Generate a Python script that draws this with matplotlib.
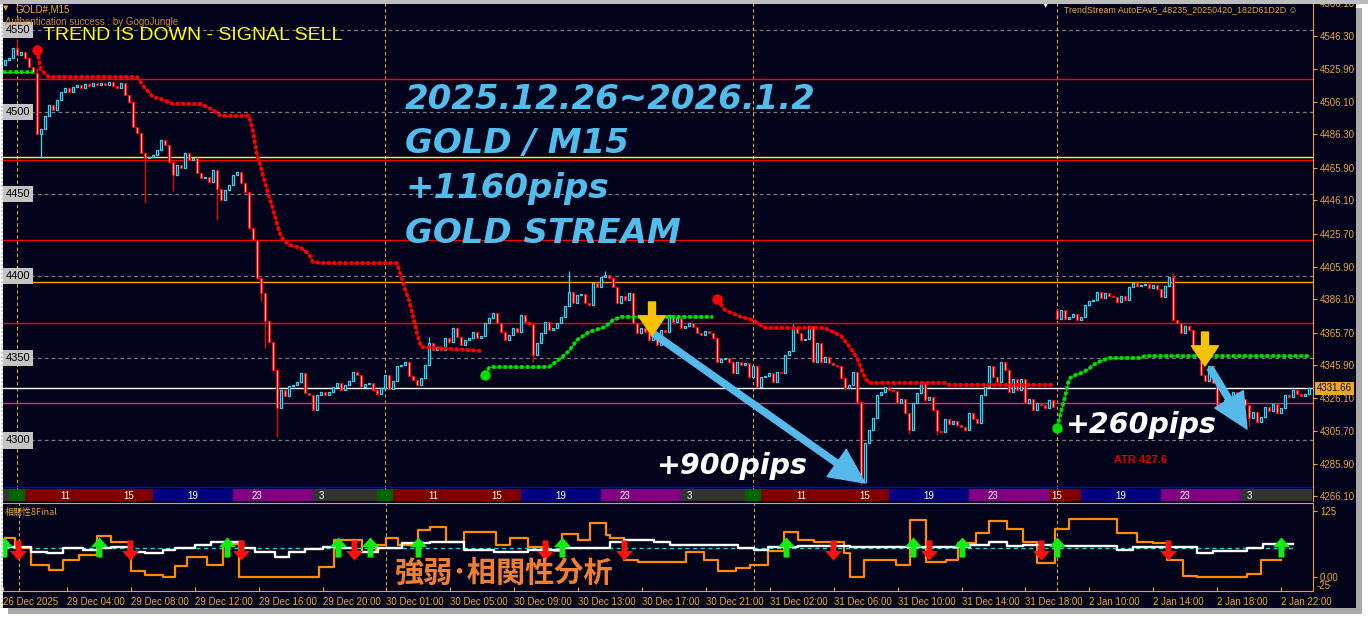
import numpy as np
import matplotlib
matplotlib.use('Agg')
import matplotlib.pyplot as plt
from matplotlib.path import Path
from matplotlib.patches import Rectangle
from matplotlib.lines import Line2D

plt.rcParams['font.family'] = ['DejaVu Sans', 'Noto Sans CJK JP']

# ---- data: GOLD M15 closes, one per candle ----
first_open = 4528.6
closes = [
    4531.7, 4532.9, 4539.0, 4534.7, 4536.5, 4532.9, 4527.4, 4523.7, 4486.6, 4489.6,
    4497.6, 4504.3, 4501.2, 4507.3, 4512.2, 4514.6, 4512.2, 4515.2, 4516.4, 4514.6,
    4517.0, 4515.8, 4517.7, 4516.4, 4517.7, 4516.4, 4518.3, 4515.8, 4514.6, 4517.7,
    4510.3, 4506.1, 4490.9, 4487.2, 4475.0, 4472.0, 4472.6, 4473.8, 4476.8, 4482.9,
    4479.9, 4469.5, 4461.6, 4467.7, 4465.9, 4475.0, 4470.8, 4472.0, 4462.8, 4459.8,
    4460.4, 4457.4, 4464.7, 4453.1, 4446.4, 4452.5, 4455.5, 4461.6, 4463.5, 4456.8,
    4451.3, 4429.3, 4422.0, 4398.9, 4389.8, 4372.7, 4359.9, 4342.9, 4319.7, 4330.7,
    4327.0, 4333.1, 4333.7, 4335.6, 4341.0, 4328.9, 4327.6, 4318.5, 4327.6, 4329.5,
    4327.6, 4329.5, 4332.5, 4335.0, 4330.7, 4333.7, 4336.2, 4341.7, 4339.8, 4332.5,
    4334.3, 4334.8, 4330.7, 4328.2, 4331.9, 4339.8, 4331.3, 4336.2, 4345.3, 4345.9,
    4347.7, 4339.2, 4336.8, 4333.7, 4338.0, 4345.9, 4359.3, 4355.0, 4356.9, 4355.0,
    4362.4, 4359.9, 4368.4, 4363.0, 4358.1, 4361.1, 4362.4, 4366.0, 4362.4, 4363.6,
    4371.5, 4374.5, 4377.6, 4371.5, 4366.0, 4361.1, 4364.2, 4368.4, 4366.0, 4376.4,
    4372.1, 4371.0, 4352.0, 4359.3, 4365.4, 4372.1, 4367.2, 4368.4, 4371.5, 4375.1,
    4381.8, 4390.4, 4383.7, 4388.5, 4389.2, 4383.7, 4382.5, 4395.9, 4393.4, 4399.5,
    4400.7, 4398.9, 4393.4, 4383.7, 4387.9, 4385.5, 4389.8, 4371.5, 4365.4, 4368.4,
    4366.0, 4361.1, 4364.8, 4358.1, 4367.2, 4366.0, 4376.4, 4372.1, 4374.5, 4368.4,
    4369.7, 4371.5, 4369.1, 4365.4, 4364.2, 4366.6, 4365.4, 4362.4, 4347.7, 4349.6,
    4350.2, 4347.7, 4341.0, 4347.7, 4345.9, 4347.1, 4338.6, 4345.3, 4332.5, 4338.6,
    4339.2, 4341.0, 4335.6, 4341.7, 4341.0, 4352.0, 4354.4, 4368.4, 4365.4, 4361.1,
    4361.7, 4369.7, 4347.7, 4359.3, 4347.7, 4350.8, 4347.1, 4345.9, 4345.3, 4338.0,
    4331.9, 4333.7, 4341.7, 4323.4, 4274.7, 4298.4, 4306.3, 4313.6, 4327.6, 4329.5,
    4332.5, 4330.7, 4330.1, 4322.8, 4325.2, 4316.7, 4306.3, 4322.8, 4328.9, 4335.0,
    4324.6, 4326.4, 4318.5, 4305.7, 4305.1, 4313.0, 4310.0, 4311.8, 4309.4, 4308.2,
    4306.3, 4316.7, 4313.0, 4310.6, 4327.6, 4332.5, 4345.3, 4338.6, 4335.6, 4347.7,
    4342.9, 4329.5, 4337.4, 4330.7, 4337.4, 4322.8, 4325.2, 4318.5, 4322.8, 4321.6,
    4319.7, 4324.6, 4320.3, 4373.9, 4379.4, 4373.9, 4375.1, 4377.0, 4373.3, 4375.1,
    4382.5, 4384.9, 4385.5, 4390.4, 4386.7, 4389.8, 4387.9, 4387.3, 4384.3, 4387.9,
    4385.5, 4393.4, 4395.9, 4394.0, 4394.6, 4395.2, 4392.8, 4394.6, 4392.2, 4387.3,
    4394.0, 4399.5, 4373.3, 4371.5, 4365.4, 4369.7, 4367.2, 4355.7, 4352.0, 4339.8,
    4336.2, 4345.3, 4335.0, 4321.6, 4320.3, 4324.6, 4326.4, 4329.5, 4327.6, 4325.2,
    4321.6, 4313.6, 4317.3, 4311.2, 4314.2, 4320.3, 4317.9, 4322.2, 4316.7, 4319.7,
    4327.6, 4326.4, 4330.7, 4328.2, 4327.0, 4328.2, 4331.66,
]
gap_opens = {263: 4379.4}
wick_highs = {3: 4543.8, 8: 4527.0, 141: 4403.0, 150: 4403.2, 292: 4402.0, 106: 4363.0, 197: 4371.0}
wick_lows = {9: 4472.0, 35: 4444.6, 42: 4452.0, 53: 4434.0, 64: 4385.0, 65: 4356.0,
             68: 4302.1, 132: 4348.0, 214: 4272.8, 233: 4303.0, 226: 4304.0, 311: 4309.0}

# stop lines (candle index, price)
red_stop_a_x = [8, 9, 11, 33, 35, 37, 39, 42, 49, 52, 54, 61, 62, 63, 64, 65, 66, 67, 68, 69, 71, 74, 76, 77, 80, 98, 99, 100, 101, 102, 103, 104, 119]
red_stop_a_y = [4537.8, 4525.6, 4521.3, 4521.3, 4514.6, 4509.1, 4507.9, 4504.9, 4504.9, 4501.2, 4497.6, 4497.6,
                4488.4, 4474.0, 4466.0, 4457.4, 4448.8, 4440.9, 4431.8, 4424.0, 4419.0, 4417.2, 4413.5, 4408.6,
                4408.0, 4408.0, 4400.1, 4392.2, 4385.5, 4375.8, 4365.4, 4356.9, 4354.5]
red_stop_b_x = [178, 180, 184, 187, 190, 205, 209, 211, 213, 214, 215, 216, 235, 236, 262]
red_stop_b_y = [4386.1, 4379.4, 4375.2, 4373.3, 4368.5, 4368.5, 4363.6, 4357.5, 4350.2, 4344.1, 4338.0,
                4335.0, 4335.0, 4333.8, 4333.8]
green_stop_a_x = [-0.5, 7]
green_stop_a_y = [4524.4, 4524.4]
green_stop_b_x = [120, 121, 122, 136, 139, 141, 143, 146, 150, 152, 154, 177]
green_stop_b_y = [4339.8, 4344.1, 4344.7, 4344.7, 4350.2, 4354.5, 4361.1, 4366.0, 4369.1, 4373.3, 4375.2, 4375.2]
green_stop_c_x = [263, 264, 265, 266, 267, 269, 271, 272, 274, 276, 284, 285, 326]
green_stop_c_y = [4307.6, 4317.3, 4326.4, 4337.4, 4339.2, 4341.0, 4343.5, 4345.9, 4348.4, 4350.2, 4350.2,
                  4351.4, 4351.4]

level_prices = [4520.1, 4472.8, 4470.6, 4421.9, 4396.3, 4371.3, 4331.66, 4322.6, 4271.6]
level_colors = ['#ff0000', '#ffff00', '#ff0000', '#ff0000', '#ffa500', '#ff0000', '#ffffff', '#e0307a', '#0000ff']
grid_prices = [4550, 4500, 4450, 4400, 4350, 4300]
right_ticks = [4566.1, 4546.3, 4525.9, 4506.1, 4486.3, 4465.9, 4446.1, 4425.7, 4405.9, 4386.1,
               4365.7, 4345.9, 4326.1, 4305.7, 4285.9, 4266.1]
day_breaks = [3, 95, 187, 263]

# session band
band_starts = [-0.5, 1, 5, 37, 57, 77, 93, 97, 129, 149, 169, 185, 189, 221, 241, 261, 269, 289, 309]
band_ends = [1, 5, 37, 57, 77, 93, 97, 129, 149, 169, 185, 189, 221, 241, 261, 269, 289, 309, 326.8]
band_colors = ['#333333', '#006400', '#800000', '#000080', '#800080', '#333333', '#006400', '#800000',
               '#000080', '#800080', '#333333', '#006400', '#800000', '#000080', '#800080', '#800000',
               '#000080', '#800080', '#333333']
band_label_x = [15, 31, 47, 63, 79, 107, 123, 139, 155, 171, 199, 215, 231, 247, 263, 279, 295, 311]
band_label_t = ['11', '15', '19', '23', '3', '11', '15', '19', '23', '3', '11', '15', '19', '23', '15', '19', '23', '3']

# time axis
time_tick_x = [-1, 15, 31, 47, 63, 79, 95, 111, 127, 143, 159, 175, 191, 207, 223, 239, 255, 271, 287, 303, 319]
time_tick_labels = ['26 Dec 2025', '29 Dec 04:00', '29 Dec 08:00', '29 Dec 12:00', '29 Dec 16:00',
                    '29 Dec 20:00', '30 Dec 01:00', '30 Dec 05:00', '30 Dec 09:00', '30 Dec 13:00',
                    '30 Dec 17:00', '30 Dec 21:00', '31 Dec 02:00', '31 Dec 06:00', '31 Dec 10:00',
                    '31 Dec 14:00', '31 Dec 18:00', '2 Jan 10:00', '2 Jan 14:00', '2 Jan 18:00', '2 Jan 22:00']

# correlation sub-window (step lines)
orange_x = [-0.5, 2, 6, 10.5, 14, 18, 22.5, 26, 31, 34.5, 39, 42, 45, 50, 54, 58, 78, 82, 89, 92.5, 95, 98,
            103, 106, 110, 114.5, 122.5, 126, 130.5, 135.5, 139, 143, 146, 150, 151, 154.5, 158, 170, 174.5,
            178, 182.5, 186, 190.5, 194.5, 198, 202, 209.5, 211, 214.5, 219, 222.5, 226, 230, 235, 238, 242.5,
            246, 250.5, 254.5, 258, 262.5, 266, 278, 283, 287, 290.5, 294.5, 298, 310.5, 314, 319]
orange_v = [73, 55, 23, 13, 32, 42, 78, 66, 12, 4, 0, 20, 38, 23, 63, 0, 19, 70, 48, 60, 73, 60,
            89, 95, 66, 86, 60, 73, 57, 50, 81, 70, 102, 80, 73, 32, 29, 48, 32,
            12, 17, 23, 50, 86, 70, 66, 45, 0, 32, 33, 23, 108, 29, 32, 64, 83,
            107, 91, 66, 26, 91, 110, 83, 66, 64, 32, 1, 0, 5, 33, 33]
white_x = [-0.5, 6, 10, 14, 19, 23, 26, 30.5, 34.5, 39, 42, 47, 51, 59, 62, 67, 70.5, 74.5, 79, 84, 87, 93,
           99, 106, 114.5, 122, 130.5, 139, 151, 154.5, 162, 166, 183, 187, 190.5, 198, 211, 241, 246, 250.5,
           254.5, 263, 278, 282, 298, 302, 310.5, 314.5, 322]
white_v = [57, 48, 46, 55, 52, 55, 57, 48, 45, 52, 55, 61, 66, 55, 48, 38, 48, 53, 57, 55, 48, 55,
           64, 66, 52, 48, 52, 55, 66, 71, 66, 61, 55, 52, 56, 59, 57, 61, 66, 59,
           61, 58, 52, 56, 45, 50, 55, 63, 63]
signal_level = 54.4
buy_signals = [-0.8, 23, 55, 83, 91, 103, 139, 195, 226.8, 239, 263, 319]
sell_signals = [2.8, 30.8, 58.5, 86.8, 134.8, 154.5, 206.8, 230.8, 258.8, 290.8]

# ---- colours ----
BG = '#03031b'
ORANGE = '#e8a535'
CYAN = '#33d8f0'
RED = '#ff0000'
GREEN = '#00e000'
BLUE_TXT = '#50bdec'

W, H = 1368, 621
fig = plt.figure(figsize=(W / 100, H / 100), dpi=100, facecolor='white')


def rect(x0, y0, x1, y1):
    return [x0 / W, 1 - y1 / H, (x1 - x0) / W, (y1 - y0) / H]


def fx(x):
    return x / W


def fy(y):
    return 1 - y / H


# window frame
fig.add_artist(Rectangle((3 / W, 1 - 608 / H), 1353 / W, 604 / H, transform=fig.transFigure,
                         fc=BG, ec='none', zorder=-10))
fig.add_artist(Rectangle((1356 / W, 1 - 614 / H), 6 / W, 606 / H, transform=fig.transFigure,
                         fc='#a9a9a9', ec='none', zorder=-10))
fig.add_artist(Rectangle((8 / W, 1 - 614 / H), 1354 / W, 6 / H, transform=fig.transFigure,
                         fc='#a9a9a9', ec='none', zorder=-10))
fig.add_artist(Rectangle((0, 1 - 4 / H), 1, 4 / H, transform=fig.transFigure,
                         fc='#bdbdbd', ec='none', zorder=10))
fig.add_artist(Line2D([1.5 / W, 1.5 / W], [1 - 608 / H, 1 - 4 / H], transform=fig.transFigure,
                      color='#d0d0d0', lw=1.5, ls=(0, (1, 1))))

# ---- main price window ----
ax = fig.add_axes(rect(3, 0, 1313, 501))
ax.set_facecolor('none')
ax.set_xlim(-0.5, 327)
ax.set_ylim(4263.1, 4568.2)
for s in ['left', 'top', 'bottom']:
    ax.spines[s].set_visible(False)
ax.spines['right'].set_color(ORANGE)
ax.set_xticks([])
ax.yaxis.tick_right()
ax.set_yticks(right_ticks)
ax.set_yticklabels([f'{v:.2f}' for v in right_ticks])
ax.tick_params(axis='y', colors=ORANGE, length=3, width=0.8, labelsize=7, pad=2,
               labelfontfamily='Liberation Sans')

for p in grid_prices:
    ax.axhline(p, color='#7a7a7a', lw=0.9, ls=(0, (3, 2.5)), zorder=0.5)
    ax.text(0.002, p, str(p), transform=ax.get_yaxis_transform(), fontsize=8, color='black',
            family='Liberation Sans', va='center', ha='left',
            bbox=dict(boxstyle='square,pad=0.28', fc='#c4c4c4', ec='none'), zorder=6)
for p, c in zip(level_prices, level_colors):
    ax.axhline(p, color=c, lw=1.0, zorder=1)
for d in day_breaks:
    ax.axvline(d, color='#d9a343', lw=0.8, ls=(0, (3, 2.5)), zorder=0.6)

# candles
c = np.array(closes)
o = np.r_[first_open, c[:-1]]
for k, v in gap_opens.items():
    o[k] = v
idx = np.arange(len(c))
up = c >= o
hi = np.maximum(o, c)
lo = np.minimum(o, c)
for k, v in wick_highs.items():
    hi[k] = v
for k, v in wick_lows.items():
    lo[k] = v
edge = np.where(up, CYAN, RED)
face = np.where(up, BG, '#ffffff')
ax.vlines(idx, lo, hi, colors=edge, lw=0.9, zorder=3)
ax.bar(idx, np.maximum(np.abs(c - o), 0.2), bottom=np.minimum(o, c), width=0.5,
       color=face, edgecolor=edge, linewidth=0.9, zorder=4)

# trailing stop dots
for xs, ys, col in [(red_stop_a_x, red_stop_a_y, RED), (red_stop_b_x, red_stop_b_y, RED),
                    (green_stop_a_x, green_stop_a_y, GREEN), (green_stop_b_x, green_stop_b_y, GREEN),
                    (green_stop_c_x, green_stop_c_y, GREEN)]:
    ax.plot(xs, ys, color=col, lw=0.8, zorder=5)
    ax.plot(xs, ys, color=col, lw=2.7, ls=(0, (0.95, 0.55)), zorder=5)
    if xs[0] > 0:
        ax.plot(xs[0], ys[0], 'o', color=col, ms=6.5, zorder=5)

# current price tag
ax.text(1.003, closes[-1], f'{closes[-1]:.2f}', transform=ax.get_yaxis_transform(), fontsize=7,
        family='Liberation Sans', color='#111111', va='center', ha='left', clip_on=False,
        bbox=dict(boxstyle='square,pad=0.15', fc='#e8a828', ec='none'), zorder=8)

# ---- session band ----
band = fig.add_axes(rect(3, 489, 1313, 501))
band.set_xlim(-0.5, 327)
band.set_ylim(0, 1)
band.axis('off')
for a, b, col in zip(band_starts, band_ends, band_colors):
    band.axvspan(a, b, color=col, lw=0)
for x, t in zip(band_label_x, band_label_t):
    band.text(x, 0.45, t, ha='center', va='center', color='white', fontsize=7, family='Liberation Sans')

# ---- correlation sub-window ----
low = fig.add_axes(rect(3, 503, 1313, 591))
low.set_facecolor('none')
low.set_xlim(-0.5, 327)
low.set_ylim(-26.5, 140.2)
low.spines['left'].set_visible(False)
for s in ['top', 'right', 'bottom']:
    low.spines[s].set_color(ORANGE)
low.yaxis.tick_right()
low.set_yticks([125, 0])
low.set_yticklabels(['125', '0.00'])
low.tick_params(axis='y', colors=ORANGE, length=3, width=0.8, labelsize=7, pad=2,
                labelfontfamily='Liberation Sans')
low.text(1.003, -17, '-25', transform=low.get_yaxis_transform(), color=ORANGE, fontsize=7,
         family='Liberation Sans', va='center', ha='left')
low.set_xticks(time_tick_x)
low.set_xticklabels(time_tick_labels, ha='left')
low.tick_params(axis='x', colors=ORANGE, direction='in', length=3, width=0.8, labelsize=7, pad=4,
                labelfontfamily='Liberation Sans')
for d in day_breaks:
    low.axvline(d, color='#d9a343', lw=0.8, ls=(0, (3, 2.5)), zorder=0.6)
low.hlines(signal_level, -0.5, 322, color='#20d0e0', lw=1.0, ls=(0, (3, 2.5)), zorder=1)
low.plot(orange_x, orange_v, drawstyle='steps-post', color='#ff8c00', lw=1.6, zorder=2)
low.plot(white_x, white_v, drawstyle='steps-post', color='white', lw=1.7, zorder=3)

up_arrow = Path([(0, 9.5), (-8, 0.5), (-2.8, 0.5), (-2.8, -9.5), (2.8, -9.5), (2.8, 0.5), (8, 0.5), (0, 9.5)])
down_arrow = Path([(0, -9.5), (-8, -0.5), (-2.8, -0.5), (-2.8, 9.5), (2.8, 9.5), (2.8, -0.5), (8, -0.5), (0, -9.5)])
low.plot(buy_signals, np.full(len(buy_signals), 56.0), ls='none', marker=up_arrow, ms=14.5,
         color='#10ee10', mec='none', zorder=5)
low.plot(sell_signals, np.full(len(sell_signals), 52.0), ls='none', marker=down_arrow, ms=14.5,
         color='#ff1010', mec='none', zorder=5)

# ---- texts ----
fig.text(fx(3), fy(8), '▼', color=ORANGE, fontsize=5, va='center')
fig.text(fx(16), fy(9), 'GOLD#,M15', color=ORANGE, fontsize=7, family='Liberation Sans', va='center')
fig.text(fx(5), fy(22), 'Authentication success : by GogoJungle', color='#c58a2a', fontsize=7,
         family='Liberation Sans', va='center')
fig.text(fx(43), fy(40), 'TREND IS DOWN - SIGNAL SELL', color='#ffff00', fontsize=14,
         family='Liberation Sans', va='baseline')
fig.text(fx(1043), fy(5), '▼', color='white', fontsize=5, va='center')
fig.text(fx(1064), fy(10), 'TrendStream AutoEAv5_48235_20250420_182D61D2D ☺', color=ORANGE, fontsize=6.4,
         family=['Liberation Sans', 'DejaVu Sans'], va='center')
fig.text(fx(5), fy(512), '相關性8Final', color=ORANGE, fontsize=6.5, family=['Noto Sans CJK JP'], va='center')

for txt, yb in [('2025.12.26~2026.1.2', 109), ('GOLD / M15', 153), ('+1160pips', 198), ('GOLD STREAM', 243)]:
    fig.text(fx(405), fy(yb), txt, color=BLUE_TXT, fontsize=24.5, fontweight='bold', fontstyle='italic',
             va='baseline')
fig.text(fx(657), fy(474), '+900pips', color='white', fontsize=20.5, fontweight='bold', fontstyle='italic',
         va='baseline')
fig.text(fx(1066), fy(433), '+260pips', color='white', fontsize=20.5, fontweight='bold', fontstyle='italic',
         va='baseline')
fig.text(fx(1114), fy(460), 'ATR 427.6', color='#e00000', fontsize=8, fontweight='bold',
         family='Liberation Sans', va='center')
fig.text(fx(395), fy(573), '強弱･相関性分析', color='#f08030', fontsize=21, fontweight='bold',
         family=['Noto Sans CJK JP'], va='center')

# signal arrows on chart
for (x0, y0), (x1, y1), col, style in [
        ((654, 334), (865, 483), '#55b9ea', 'simple,head_length=2.5,head_width=2.4,tail_width=0.45'),
        ((1210, 368), (1247, 429), '#55b9ea', 'simple,head_length=2.5,head_width=2.4,tail_width=0.45'),
        ((652, 302), (652, 336), '#f5c400', 'simple,head_length=1.45,head_width=1.95,tail_width=0.5'),
        ((1205, 332), (1205, 366), '#f5c400', 'simple,head_length=1.45,head_width=1.95,tail_width=0.5')]:
    ax.annotate('', xy=(x1, H - y1), xycoords='figure pixels', xytext=(x0, H - y0),
                textcoords='figure pixels',
                arrowprops=dict(arrowstyle=style, color=col, mutation_scale=10, shrinkA=0, shrinkB=0),
                zorder=9)

fig.savefig('out.png', dpi=100, facecolor=fig.get_facecolor())
